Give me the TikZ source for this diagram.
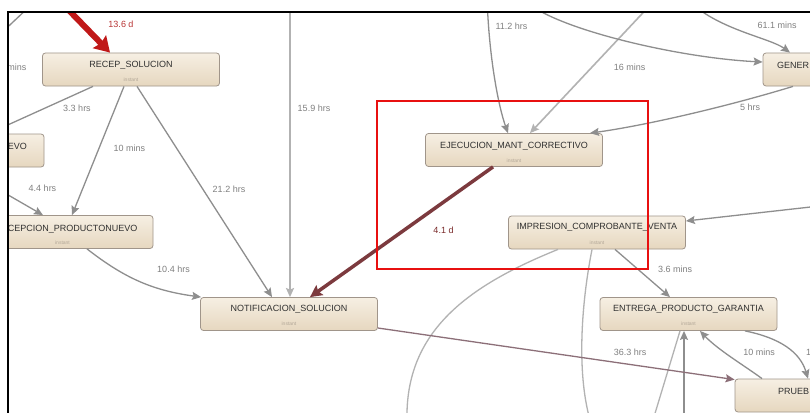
\documentclass[tikz,border=0pt]{standalone}
\usepackage{fontspec}
\setmainfont{Liberation Sans}
\usetikzlibrary{arrows.meta}
\definecolor{boxtop}{HTML}{F6EFE3}
\definecolor{boxbot}{HTML}{E6D7BF}
\definecolor{boxline}{HTML}{A0958A}
\definecolor{ttlc}{HTML}{303030}
\definecolor{instc}{HTML}{B3A898}
\definecolor{edgec}{HTML}{8E8E8E}
\definecolor{lightg}{HTML}{B2B2B2}
\definecolor{lblc}{HTML}{808080}
\definecolor{redc}{HTML}{C01818}
\definecolor{redl}{HTML}{B83434}
\definecolor{darkr}{HTML}{7C3A3E}
\definecolor{darkl}{HTML}{7A2A2A}
\definecolor{purp}{HTML}{8C6F78}
\definecolor{framer}{HTML}{E81010}
\begin{document}
\begin{tikzpicture}[x=1pt,y=-1pt,
  box/.style={draw=boxline, line width=0.8pt, rounded corners=3pt, top color=boxtop, bottom color=boxbot, minimum width=177pt, minimum height=33pt, inner sep=0pt},
  ttl/.style={font=\fontsize{9}{10}\selectfont, text=ttlc, inner sep=0pt, anchor=base},
  inst/.style={font=\fontsize{5}{6}\selectfont, text=instc, inner sep=0pt, anchor=base},
  lbl/.style={font=\fontsize{9}{10}\selectfont, text=lblc, inner sep=0pt},
  gline/.style={draw=edgec, line width=1.3pt},
  garr/.style={draw=edgec, line width=1.3pt, -{Stealth[length=9pt,width=8pt,inset=1.5pt]}},
  lgarr/.style={draw=lightg, line width=1.6pt, -{Stealth[length=9pt,width=8pt,inset=1.5pt]}},
  redarr/.style={draw=redc, line width=6pt, -{Stealth[length=15pt,width=18pt,inset=2pt]}},
  darr/.style={draw=darkr, line width=3.5pt, -{Stealth[length=12pt,width=12pt,inset=2pt]}},
  parr/.style={draw=purp, line width=1.3pt, -{Stealth[length=9pt,width=8pt,inset=1.5pt]}},
]
\useasboundingbox[fill=white] (0,0) rectangle (810,412);
\begin{scope}
\clip (8,12) rectangle (811,413);
% off-frame coordinates
\coordinate (cR) at (56,-3);
\coordinate (cTLa) at (-5,39);
\coordinate (cTLb) at (30,6);
\coordinate (cL1) at (-10,133);
\coordinate (cL2) at (-10,184.5);
\coordinate (cT1) at (290,-3);
\coordinate (cT2) at (487,-3);
\coordinate (cT3) at (655,0);
\coordinate (cT4) at (528,3);
\coordinate (cT5) at (690,2);
\coordinate (cR1) at (815,206.5);
\coordinate (cB1) at (407,420);
\coordinate (cB2) at (590,420);
\coordinate (cB3) at (684,420);
\coordinate (cB4) at (653,420);
% boxes
\node[box] (recep) at (131,69.5) {};
\node[ttl] (recep-t) at ([yshift=-15pt]recep.north) {RECEP\_SOLUCION};
\node[inst] (recep-i) at ([yshift=4.5pt]recep.south) {instant};
\node[box] (evo) at (-44.5,150.5) {};
\node[ttl, anchor=base east] (evo-t) at (27,149) {EVO};
\node[box] (rpn) at (64.5,232) {};
\node[ttl, anchor=base east] (rpn-t) at (137.5,231) {CEPCION\_PRODUCTONUEVO};
\node[inst] (rpn-i) at ([xshift=-2pt,yshift=4.5pt]rpn.south) {instant};
\node[box] (ejec) at (514,150) {};
\node[ttl] (ejec-t) at ([yshift=-15pt]ejec.north) {EJECUCION\_MANT\_CORRECTIVO};
\node[inst] (ejec-i) at ([yshift=4.5pt]ejec.south) {instant};
\node[box] (impr) at (597,232.5) {};
\node[ttl] (impr-t) at ([yshift=-14pt]impr.north) {IMPRESION\_COMPROBANTE\_VENTA};
\node[inst] (impr-i) at ([yshift=5pt]impr.south) {instant};
\node[box] (notif) at (289,314) {};
\node[ttl] (notif-t) at ([yshift=-14pt]notif.north) {NOTIFICACION\_SOLUCION};
\node[inst] (notif-i) at ([yshift=5pt]notif.south) {instant};
\node[box] (entr) at (688.5,314) {};
\node[ttl] (entr-t) at ([yshift=-14pt]entr.north) {ENTREGA\_PRODUCTO\_GARANTIA};
\node[inst] (entr-i) at ([yshift=5pt]entr.south) {instant};
\node[box] (gener) at (851.5,69.5) {};
\node[ttl, anchor=base west] (gener-t) at (777,68) {GENER};
\node[box] (prueb) at (823.5,395.5) {};
\node[ttl, anchor=base west] (prueb-t) at (778,394) {PRUEB};
% connectors
\draw[gline] (cTLa) -- (cTLb);
\draw[gline] ([xshift=-38pt]recep.south) -- (cL1);
\draw[garr] ([xshift=-7pt]recep.south) -- ([xshift=7.5pt]rpn.north);
\draw[garr] ([xshift=6pt]recep.south) -- ([xshift=-17pt]notif.north);
\draw[lgarr] (cT1) -- ([xshift=1pt]notif.north);
\draw[garr] ([xshift=22.5pt]rpn.south) to[bend right=15] ([xshift=1pt]notif.north west);
\draw[garr] (cL2) -- ([xshift=-21.5pt]rpn.north);
\draw[garr] (cT2) .. controls (489,60) and (499,108) .. ([xshift=-6pt]ejec.north);
\draw[lgarr] (cT3) -- ([xshift=16pt]ejec.north);
\draw[garr] (cT4) .. controls (560,30) and (680,58) .. ([yshift=7.5pt]gener.west);
\draw[garr] (cT5) .. controls (720,30) and (770,38) .. ([xshift=-61.5pt]gener.north);
\draw[garr] ([xshift=-58.5pt]gener.south) .. controls (722,108) and (642,126) .. ([xshift=76pt]ejec.north);
\draw[garr] (cR1) -- ([yshift=11.5pt]impr.east);
\draw[garr] ([xshift=18pt]impr.south) -- ([xshift=-18.5pt]entr.north);
\draw[gline, draw=lightg] ([xshift=-39pt]impr.south) .. controls (470,285) and (405,330) .. (cB1);
\draw[gline, draw=lightg] ([xshift=-5pt]impr.south) .. controls (582,300) and (576,370) .. (cB2);
\draw[garr] (cB3) -- ([xshift=-4.5pt]entr.south);
\draw[gline, draw=lightg] (cB4) -- ([xshift=-8.5pt]entr.south);
\draw[parr] ([yshift=-14pt]notif.east) -- ([yshift=-1pt]prueb.north west);
\draw[garr] ([xshift=-61.5pt]prueb.north) .. controls (745,366) and (718,350) .. ([xshift=11.5pt]entr.south);
\draw[garr] ([xshift=56.5pt]entr.south) .. controls (780,338) and (800,352) .. ([xshift=-15.5pt]prueb.north);
\draw[darr] ([xshift=-21pt]ejec.south) -- ([xshift=21pt]notif.north);
\draw[redarr] (cR) -- ([xshift=-21pt]recep.north);
% labels
\node[lbl, text=redl] (l1) at (121,24) {13.6 d};
\node[lbl, anchor=east] (l2) at (26.5,67) {mins};
\node[lbl] (l3) at (77,108) {3.3 hrs};
\node[lbl] (l4) at (129.5,148) {10 mins};
\node[lbl] (l5) at (229,189) {21.2 hrs};
\node[lbl] (l6) at (314,108) {15.9 hrs};
\node[lbl] (l7) at (42.5,188) {4.4 hrs};
\node[lbl] (l8) at (173.5,269) {10.4 hrs};
\node[lbl, text=darkl] (l9) at (443.5,230) {4.1 d};
\node[lbl] (l10) at (511.5,26) {11.2 hrs};
\node[lbl] (l11) at (629.5,67) {16 mins};
\node[lbl] (l12) at (750,107) {5 hrs};
\node[lbl] (l13) at (777,25) {61.1 mins};
\node[lbl] (l14) at (675,269) {3.6 mins};
\node[lbl] (l15) at (630,352) {36.3 hrs};
\node[lbl] (l16) at (759,352) {10 mins};
\node[lbl, anchor=west] (l17) at (806,352) {1};
\end{scope}
% frame
\draw[line width=2.2pt, black] (811,12) -- (8,12) -- (8,413);
% highlight
\draw[framer, line width=2pt] (377,101) rectangle (648,269);
\end{tikzpicture}
\end{document}
